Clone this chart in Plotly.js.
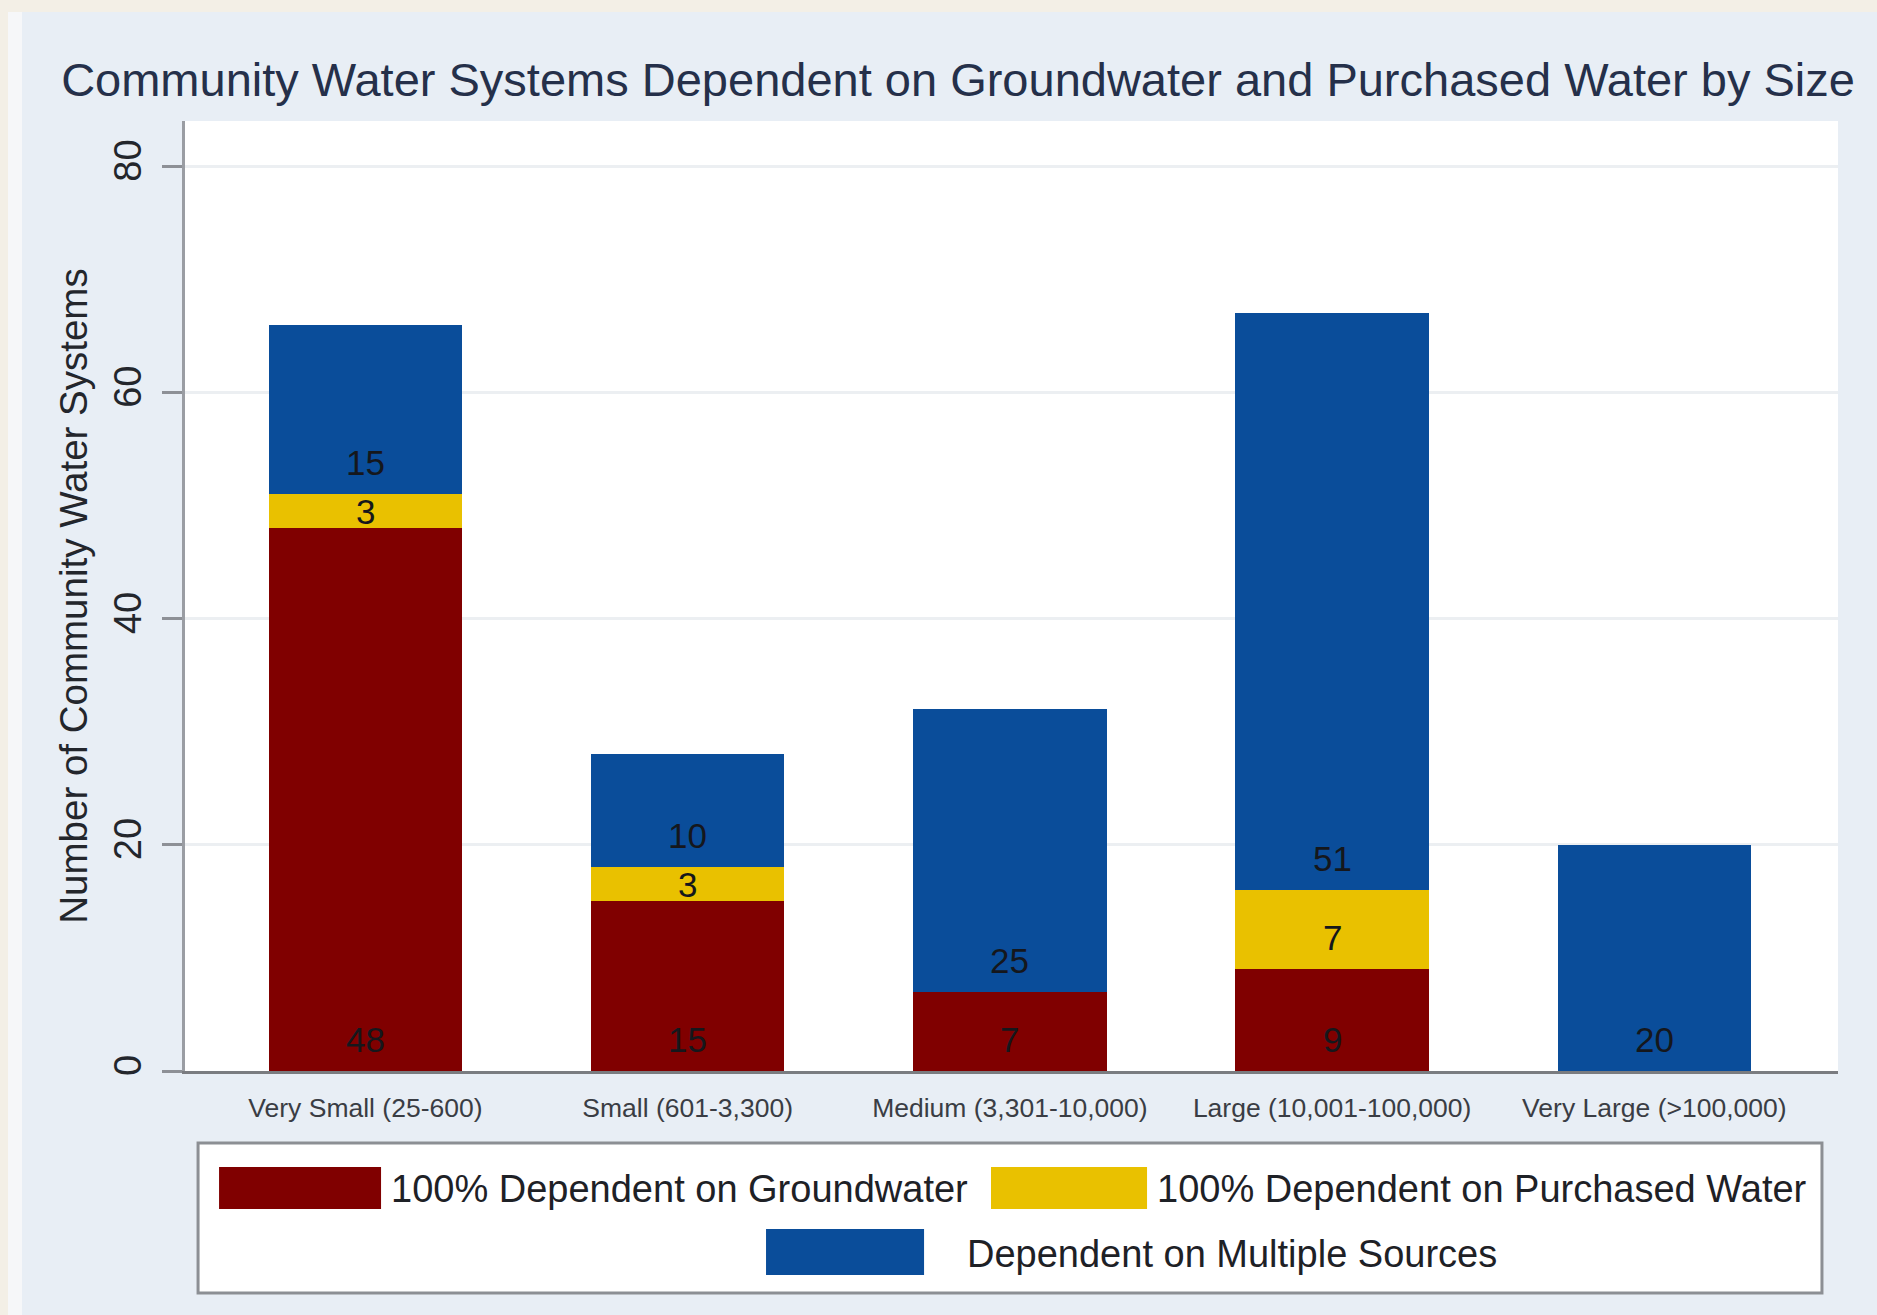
<!DOCTYPE html>
<html>
<head>
<meta charset="utf-8">
<script src="https://cdn.plot.ly/plotly-3.0.1.min.js"></script>
<style>
  html, body { margin: 0; padding: 0; background: #f3efe6; }
  #strip { position: absolute; left: 8px; top: 12px; width: 14px; height: 1303px; background: #f6f7f9; }
  #chart { position: absolute; left: 22px; top: 12px; width: 1855px; height: 1303px; }
</style>
</head>
<body>
<div id="strip"></div>
<div id="chart"></div>
<script>
// ---- data ----
const categories = [
  "Very Small (25-600)",
  "Small (601-3,300)",
  "Medium (3,301-10,000)",
  "Large (10,001-100,000)",
  "Very Large (>100,000)"
];
const groundwater = [48, 15, 7, 9, 0];
const purchased   = [3, 3, 0, 7, 0];
const multiple    = [15, 10, 25, 51, 20];

const seriesNames = [
  "100% Dependent on Groundwater",
  "100% Dependent on Purchased Water",
  "Dependent on Multiple Sources"
];
const seriesColors = ["#800000", "#e9c100", "#0a4d9a"];
const yTicks = [0, 20, 40, 60, 80];

const FONT = "Liberation Sans, Arial, sans-serif";
const seriesValues = [groundwater, purchased, multiple];

const traces = seriesValues.map((vals, i) => ({
  type: "bar",
  x: categories,
  y: vals,
  name: seriesNames[i],
  marker: { color: seriesColors[i], line: { width: 0 } },
  showlegend: false,
  hoverinfo: "x+y+name"
}));

// bar value labels near the base of each segment
const LABEL_OFFSET = 2.8;
const annotations = [];
categories.forEach((cat, j) => {
  let base = 0;
  seriesValues.forEach((vals) => {
    const v = vals[j];
    if (v > 0) {
      annotations.push({
        x: cat, y: base + Math.min(LABEL_OFFSET, v / 2),
        xref: "x", yref: "y",
        text: String(v), showarrow: false,
        yanchor: "middle", xanchor: "center",
        font: { family: FONT, size: 35, color: "#15171c" }
      });
    }
    base += v;
  });
});

// custom legend (paper coordinates relative to the plot area)
const shapes = [
  { type: "rect", xref: "paper", yref: "paper", x0: 0.0079, x1: 0.9903, y0: -0.2337, y1: -0.0758,
    fillcolor: "#ffffff", line: { color: "#8c8f94", width: 3 } }
];
const legendItems = [
  { sx0: 0.0206, sx1: 0.1186, sy0: -0.1453, sy1: -0.1011, tx: 0.1234, ty: -0.1242 },
  { sx0: 0.4876, sx1: 0.5820, sy0: -0.1453, sy1: -0.1011, tx: 0.5868, ty: -0.1242 },
  { sx0: 0.3515, sx1: 0.4471, sy0: -0.2147, sy1: -0.1663, tx: 0.4719, ty: -0.1926 }
];
legendItems.forEach((it, i) => {
  shapes.push({ type: "rect", xref: "paper", yref: "paper",
    x0: it.sx0, x1: it.sx1, y0: it.sy0, y1: it.sy1,
    fillcolor: seriesColors[i], line: { width: 0 } });
  annotations.push({ xref: "paper", yref: "paper", x: it.tx, y: it.ty,
    xanchor: "left", yanchor: "middle", showarrow: false,
    text: seriesNames[i], font: { family: FONT, size: 38, color: "#1e2126" } });
});

const layout = {
  width: 1855, height: 1303,
  paper_bgcolor: "#e8eef5",
  plot_bgcolor: "#ffffff",
  margin: { l: 163, r: 39, t: 109, b: 244 },
  barmode: "stack",
  bargap: 0.4,
  font: { family: FONT, color: "#222" },
  title: {
    text: "Community Water Systems Dependent on Groundwater and Purchased Water by Size",
    font: { family: FONT, size: 47, color: "#25304a" },
    xref: "container", yref: "container", x: 0.5046, y: 0.948,
    xanchor: "center", yanchor: "middle"
  },
  xaxis: {
    type: "category",
    range: [-0.56, 4.57],
    showline: true, linecolor: "#7a7c80", linewidth: 3,
    ticks: "", showgrid: false, zeroline: false,
    tickfont: { family: FONT, size: 26.5, color: "#3a3d44" },
    ticklabelstandoff: 11,
    fixedrange: true
  },
  yaxis: {
    range: [0, 84],
    tickvals: yTicks, ticktext: yTicks.map(String),
    tickangle: -90,
    ticks: "outside", ticklen: 20, tickwidth: 3, tickcolor: "#8d9096",
    showline: true, linecolor: "#9a9da3", linewidth: 3,
    showgrid: true, gridcolor: "#eceff2", gridwidth: 3,
    zeroline: false,
    tickfont: { family: FONT, size: 38, color: "#23262c" },
    ticklabelstandoff: 6,
    title: {
      text: "Number of Community Water Systems",
      font: { family: FONT, size: 38.5, color: "#23262c" },
      standoff: 8
    },
    fixedrange: true
  },
  shapes: shapes,
  annotations: annotations
};

Plotly.newPlot("chart", traces, layout, { displayModeBar: false, staticPlot: true });
</script>
</body>
</html>
